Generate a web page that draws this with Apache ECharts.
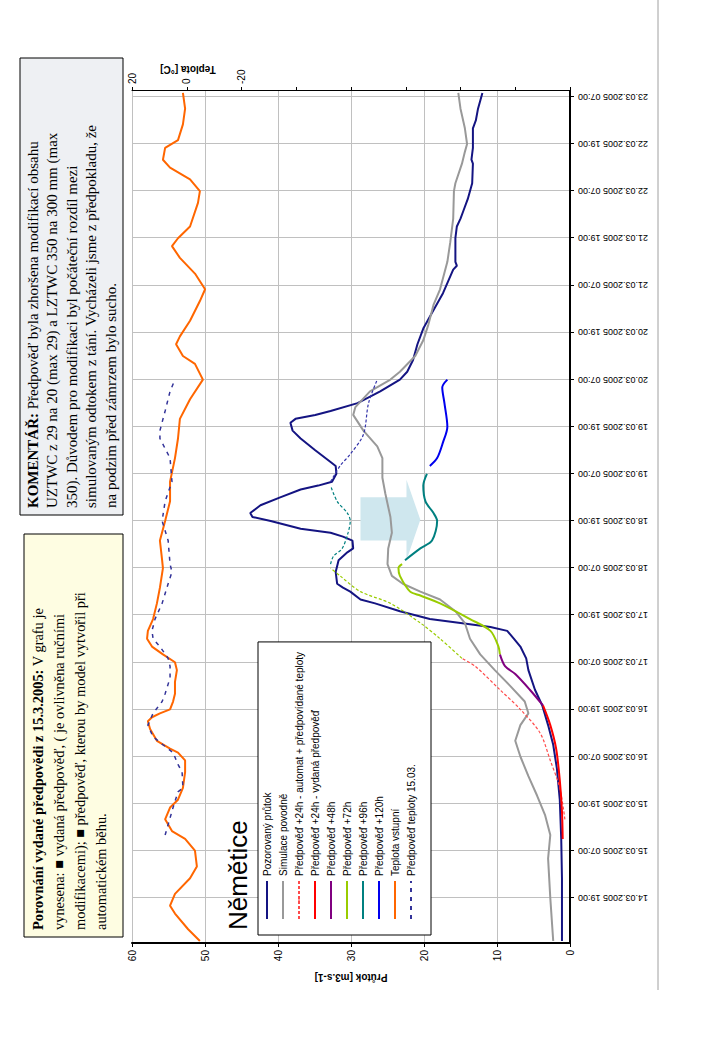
<!DOCTYPE html>
<html><head><meta charset="utf-8">
<script src="https://cdn.jsdelivr.net/npm/echarts@6/dist/echarts.min.js"></script>
<style>
html,body{margin:0;padding:0;background:#fff;overflow:hidden;width:720px;height:1040px}
#wrap{position:absolute;left:0;top:0;width:1040px;height:720px;transform-origin:0 0;transform:translate(0,1040px) rotate(-90deg)}
#chart{width:1040px;height:720px}
</style></head>
<body><div id="wrap"><div id="chart"></div></div>
<script>
// time values: h = hours since 14.03.2005 00:00 ; categories hourly 14.03.2005 08:00 .. 23.03.2005 08:00
const FIRST_HOUR = 8, LAST_HOUR = 224;
const pozorovany = [[8,1.1],[24,1.1],[34,1.2],[44,1.4],[52,1.8],[58,2.3],[63,3.0],[68,3.8],[72,4.8],[77,5.7],[80,6.0],[83,6.8],[85,7.7],[87,8.6],[88,10.9],[89,15],[90,19.2],[92,23.3],[94,26.7],[95,28.7],[97,30.1],[98,31.1],[99,31.9],[102,32.1],[105,31.7],[107,30.5],[108,29.7],[110,29.8],[111,31.1],[112,32.8],[113,36.9],[115,41],[116,43.5],[117,43.8],[119,42.4],[121,39.7],[123,36.9],[124,34.5],[125,32.6],[127,32],[129,32.1],[130,32.8],[133,34.9],[136,36.9],[138,38],[140,38.3],[141,37.6],[142,34.9],[143,32.8],[145,29.1],[148,26],[151,23.3],[153,22.3],[156,21.5],[160,20.9],[164,20.1],[168,18.9],[173,17.4],[176,16.7],[179,16],[180,15.5],[181,15.7],[187,15.7],[190,15.5],[192,15],[194,14.6],[197,14],[201,13.4],[206,13.3],[207,13.5],[210,13.3],[215,13.3],[217,12.9],[220,12.6],[224,12.0]];
const simulace = [[8,2.3],[19,2.7],[29,3.0],[35,2.7],[40,3.4],[45,4.5],[50,5.7],[55,6.8],[59,7.5],[63,6.8],[66,5.7],[69,6.2],[73,8.2],[77,10.3],[81,12.3],[85,13.7],[89,14.4],[92,15.7],[95,17.8],[97,20.5],[99,22.9],[101,24.4],[104,25],[108,24.9],[112,24.4],[116,24.6],[122,25.3],[126,25.7],[131,25.7],[134,26.4],[138,28.3],[142,29.7],[144,29.4],[148,27.4],[151,24.6],[153,23.3],[157,21.2],[161,20.1],[165,19.4],[170,18.7],[174,17.8],[181,16.8],[186,16.4],[192,16],[199,15.9],[201,15.7],[206,14.8],[209,14.4],[211,14.1],[215,14.4],[220,15],[224,15.3]];
const automat24 = [[39,0.7],[47,1.4],[54,2.7],[61,4.1],[67,6.8],[72,9.6],[78,13],[80,14.8]];
const automat48 = [[80,14.8],[85,17.8],[89,20.5],[94,24.6],[97,28.7],[101,31.5],[103,32.8]];
const automat72 = [[104,32.8],[106,32.4],[108,31.2],[112,30.4],[115,30.1],[117,30.5],[120,31.9],[124,32.8]];
const automat96 = [[125,32.8],[129,31.5],[132,30.1],[137,28.3],[145,27.6],[151,26.4]];
const vydana24 = [[34,1.0],[41,1.1],[49,1.4],[57,1.9],[63,2.7],[68,3.7]];
const pred48 = [[68,3.7],[72,5.5],[76,7.5],[78,8.9],[81,9.6]];
const pred72 = [[81,9.6],[83,9.8],[87,10.9],[90,13.7],[94,17.8],[96,20.5],[97,21.9],[101,23.3],[103,23.5],[104,23]];
const pred96 = [[105,22.6],[108,20.5],[110,18.9],[115,18.2],[117,18.7],[120,19.8],[124,20.1],[127,19.6]];
const pred120 = [[129,19.2],[131,18.2],[135,17.4],[139,16.8],[145,17.2],[149,17.5],[151,16.8]];
const teplota = [[8,-4.8],[11,-0.5],[15,4.3],[17,6.1],[20,4.3],[24,-1.2],[27,-3.7],[31,-3],[34,0.6],[36,5.4],[39,7.9],[42,6.1],[44,3.2],[47,1.4],[51,0.6],[54,0.6],[56,3.2],[57,6.1],[59,10.9],[62,13.4],[64,14.2],[65,12.7],[66,9.8],[67,6.1],[69,5],[71,4.3],[74,4.3],[77,3.6],[79,4.3],[81,8.7],[83,12.7],[85,14.5],[87,14.2],[90,12.3],[94,10.9],[98,9.8],[103,8.7],[105,9],[110,9.8],[115,7.9],[120,6.1],[125,6.1],[131,4.3],[136,3.2],[141,2.5],[146,-1.2],[151,-5.9],[155,-3],[157,1.4],[160,3.9],[162,2.5],[166,-1.2],[171,-4.8],[174,-6.7],[178,-3],[182,2.5],[185,5.4],[187,3.2],[190,-1.2],[196,-4.1],[199,-4.8],[202,-1.2],[205,6.1],[207,8.7],[210,7.9],[212,3.2],[216,1.4],[220,0.6],[224,1.4]];
const teplotaPredpoved = [[35,7.9],[42,5],[46,3.2],[47,1.4],[51,1.7],[53,3.2],[56,5],[58,8.7],[60,12.3],[63,14.2],[66,12.3],[69,9],[71,7.9],[75,6.1],[78,6.1],[80,6.8],[83,9.8],[85,12.3],[87,12.7],[90,11.6],[94,9],[99,6.8],[102,5.4],[104,6.1],[110,6.8],[115,9],[120,7.9],[125,5.4],[131,6.1],[136,9.8],[138,9.8],[143,7.9],[148,6.1],[151,4.3]];
const teplotaLabels = [20, 0, -20];
const legendNames = ['Pozorovaný průtok','Simulace povodně','Předpověď +24h - automat + předpovídané teploty','Předpověď +24h - vydaná předpověď','Předpověď +48h','Předpověď +72h','Předpověď +96h','Předpověď +120h','Teplota vstupní','Předpověď teploty 15.03.'];

function pad(n){return (n<10?'0':'')+n;}
const categories = [];
for (let h = FIRST_HOUR; h <= LAST_HOUR; h++) {
  categories.push(pad(14 + Math.floor(h/24)) + '.03.2005 ' + pad(h%24) + ':00');
}
const toIdx = arr => arr.map(p => [p[0] - FIRST_HOUR, p[1]]);
const shown = (i) => i % 12 === 11;

function line(name, data, color, width, opts) {
  return Object.assign({
    name, type: 'line', data: toIdx(data), symbol: 'none', showSymbol: false,
    lineStyle: { color, width }, itemStyle: { color }, animation: false, z: 3
  }, opts || {});
}

const chart = echarts.init(document.getElementById('chart'), null, { renderer: 'svg' });
const serif = '"Liberation Serif", "Times New Roman", serif';
const sans = '"Liberation Sans", Arial, sans-serif';

const option = {
  animation: false,
  textStyle: { fontFamily: sans },
  grid: { left: 97, right: 91, top: 132, bottom: 150 },
  legend: {
    orient: 'vertical', left: 105, top: 258, data: legendNames,
    padding: [3, 10, 14, 15], borderColor: '#000', borderWidth: 1, backgroundColor: '#fff',
    itemWidth: 38, itemHeight: 2, itemGap: 4,
    textStyle: { fontSize: 10, color: '#000', fontFamily: sans, lineHeight: 12 },
    selectedMode: false
  },
  xAxis: {
    type: 'category', data: categories, boundaryGap: true,
    axisLine: { show: true, lineStyle: { color: '#000', width: 2 } },
    axisTick: { show: true, interval: shown, alignWithLabel: true, length: 4, lineStyle: { color: '#000' } },
    axisLabel: { interval: shown, rotate: 90, fontSize: 9, color: '#000', margin: 8, fontFamily: sans },
    splitLine: { show: true, interval: shown, alignWithLabel: true, lineStyle: { color: '#c0c0c0', width: 1 } }
  },
  yAxis: [
    {
      type: 'value', min: 0, max: 60, interval: 10, position: 'left',
      name: 'Průtok [m3.s-1]', nameLocation: 'middle', nameGap: 27, nameRotate: 90,
      nameTextStyle: { fontSize: 10, fontWeight: 'bold', color: '#000', fontFamily: sans },
      axisLine: { show: true, lineStyle: { color: '#000', width: 2 } },
      axisTick: { show: true, length: 4, lineStyle: { color: '#000' } },
      axisLabel: { fontSize: 10, color: '#000', margin: 7, fontFamily: sans },
      splitLine: { show: true, lineStyle: { color: '#c0c0c0', width: 1 } }
    },
    {
      type: 'value', min: -140, max: 20, interval: 20, position: 'right',
      axisLine: { show: true, lineStyle: { color: '#000', width: 1 } },
      axisTick: { show: true, length: 4, lineStyle: { color: '#000' } },
      axisLabel: { fontSize: 10, color: '#000', margin: 7, fontFamily: sans,
        formatter: v => teplotaLabels.indexOf(v) >= 0 ? String(v) : '' },
      splitLine: { show: false }
    }
  ],
  series: [
    line(legendNames[0], pozorovany, '#141482', 2),
    line(legendNames[1], simulace, '#999999', 2),
    line(legendNames[2], automat24, '#ff4a4a', 1.2, { lineStyle: { color: '#ff4a4a', width: 1.2, type: [3, 2] }, smooth: 0.3 }),
    line(legendNames[3], vydana24, '#ff0000', 2, { smooth: 0.3 }),
    line(legendNames[4], pred48, '#800080', 2, { smooth: 0.3 }),
    line(legendNames[5], pred72, '#99cc00', 2, { smooth: 0.3 }),
    line(legendNames[6], pred96, '#008080', 2, { smooth: 0.3 }),
    line(legendNames[7], pred120, '#0000ee', 2, { smooth: 0.3 }),
    line(legendNames[8], teplota, '#ff6600', 2, { yAxisIndex: 1 }),
    line(legendNames[9], teplotaPredpoved, '#333399', 1.5, { yAxisIndex: 1, lineStyle: { color: '#333399', width: 1.5, type: [4, 5] } }),
    line('automat +48h', automat48, '#99cc00', 1.2, { lineStyle: { color: '#99cc00', width: 1.2, type: [3, 2] }, smooth: 0.3 }),
    line('automat +72h', automat72, '#008080', 1.2, { lineStyle: { color: '#008080', width: 1.2, type: [3, 2] }, smooth: 0.3 }),
    line('automat +96h', automat96, '#3333aa', 1.2, { lineStyle: { color: '#3333aa', width: 1.2, type: [3, 2] }, smooth: 0.3 })
  ]
};
chart.setOption(option);

// annotations
const p0 = chart.convertToPixel({ xAxisIndex: 0, yAxisIndex: 0 }, [0, 0]);
const p1 = chart.convertToPixel({ xAxisIndex: 0, yAxisIndex: 0 }, [1, 10]);
const stepX = p1[0] - p0[0], stepY = (p1[1] - p0[1]) / 10;
const px = (h, q) => [p0[0] + (h - FIRST_HOUR) * stepX, p0[1] + q * stepY];
const arrowPts = [px(110, 28.7), px(121, 28.7), px(121, 22.4), px(125.5, 22.4), px(115.3, 20.5), px(105, 22.4), px(110, 22.4)];

chart.setOption({
  graphic: [
    { type: 'polygon', z: 1, shape: { points: arrowPts }, style: { fill: '#cfe7ee' } },
    { type: 'line', shape: { x1: 50, y1: 658, x2: 1040, y2: 658 }, style: { stroke: '#a0a0a0', lineWidth: 1 } },
    { type: 'text', x: 971, y: 188, rotation: Math.PI / 2,
      style: { text: 'Teplota [°C]', font: 'bold 10px ' + sans, fill: '#000', textAlign: 'center', textVerticalAlign: 'middle' } },
    { type: 'text', x: 110, y: 238,
      style: { text: 'Němětice', font: '26px ' + sans, fill: '#000', textAlign: 'left', textVerticalAlign: 'middle' } },
    { type: 'rect', shape: { x: 103, y: 24, width: 403, height: 99 }, style: { fill: '#fefde2', stroke: '#000', lineWidth: 1 } },
    { type: 'text', x: 110, y: 27,
      style: { text: '{b|Porovnání vydané předpovědi z 15.3.2005:} V grafu je\nvynesena: ■ vydaná předpověď, ( je ovlivněna ručními\nmodifikacemi); ■ předpověď, kterou by model vytvořil při\nautomatickém běhu.',
        font: '14.4px ' + serif, fill: '#000', lineHeight: 21,
        rich: { b: { fontWeight: 'bold', fontSize: 14.4, fontFamily: serif, lineHeight: 21 } } } },
    { type: 'rect', shape: { x: 525, y: 20, width: 457, height: 103 }, style: { fill: '#eef0f3', stroke: '#000', lineWidth: 1 } },
    { type: 'text', x: 532, y: 23,
      style: { text: '{b|KOMENTÁŘ:} Předpověď byla zhoršena modifikací obsahu\nUZTWC z 29 na 20 (max 29) a LZTWC 350 na 300 mm (max\n350). Důvodem pro modifikaci byl počáteční rozdíl mezi\nsimulovaným odtokem z tání. Vycházeli jsme z předpokladu, že\nna podzim před zámrzem bylo sucho.',
        font: '15px ' + serif, fill: '#000', lineHeight: 19.5,
        rich: { b: { fontWeight: 'bold', fontSize: 15, fontFamily: serif, lineHeight: 19.5 } } } }
  ]
});
</script></body></html>
